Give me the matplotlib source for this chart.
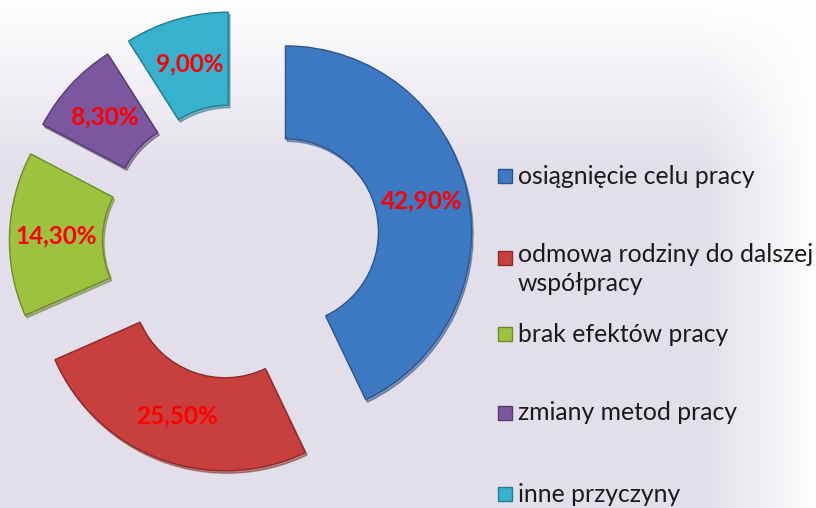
import numpy as np
import matplotlib.pyplot as plt
from matplotlib.patches import Rectangle
from matplotlib.colors import to_rgb

# data
categories = ['osiągnięcie celu pracy', 'odmowa rodziny do dalszej\nwspółpracy',
              'brak efektów pracy', 'zmiany metod pracy', 'inne przyczyny']
values = [42.9, 25.5, 14.3, 8.3, 9.0]
colors = ['#3d79c3', '#c8403d', '#9cc23e', '#7b579f', '#38b1cf']
edge_colors = ['#2a568e', '#8e2a28', '#6d8a26', '#55396f', '#227b92']

W, H = 816, 508
fig = plt.figure(figsize=(W / 100, H / 100), dpi=100)
ax = fig.add_axes([0, 0, 1, 1])

# background gradient (white top / right, lavender below)
yy, xx = np.mgrid[0:H, 0:W]
t = np.clip(yy / 170.0, 0, 1) * np.clip((W - xx) / 110.0, 0, 1)
top = np.array(to_rgb('#ffffff'))
bot = np.array(to_rgb('#e3dfea'))
bg = top[None, None, :] * (1 - t[..., None]) + bot[None, None, :] * t[..., None]
ax.imshow(bg, extent=(0, W, 0, H), origin='upper', zorder=0)

R = 186
cx, cy = 241, H - 242
wedges, texts, autotexts = ax.pie(
    values, colors=colors, startangle=90, counterclock=False,
    radius=R, center=(cx, cy), explode=[45.6] * len(values),
    wedgeprops=dict(width=R * 0.5, linewidth=1.0),
    autopct=lambda p: f'{p:.2f}%'.replace('.', ','), pctdistance=0.75,
    textprops=dict(color='#ff0000', fontsize=17.5, fontweight='bold', family='Lato'),
    shadow={'ox': 1.2, 'oy': -1.8, 'shade': 0.35})
for w, ec in zip(wedges, edge_colors):
    w.set_edgecolor(ec)
    w.set_zorder(3)
for a in autotexts:
    a.set_zorder(5)

# legend drawn by hand
leg_y = [176, 258, 334, 413, 494]
for lab, col, ec, y in zip(categories, colors, edge_colors, leg_y):
    ax.add_patch(Rectangle((498, H - y - 7), 14, 14, facecolor=col, edgecolor=ec,
                           linewidth=1, zorder=4))
    if '\n' in lab:
        ax.text(518, H - y + 15, lab, fontsize=17.8, family='Lato', color='#1a1a1a',
                va='top', ha='left', linespacing=1.3, zorder=4)
    else:
        ax.text(518, H - y, lab, fontsize=17.8, family='Lato', color='#1a1a1a',
                va='center', ha='left', zorder=4)

ax.set_xlim(0, W)
ax.set_ylim(0, H)
ax.set_aspect('auto')
ax.axis('off')
fig.savefig('out.png', dpi=100)
